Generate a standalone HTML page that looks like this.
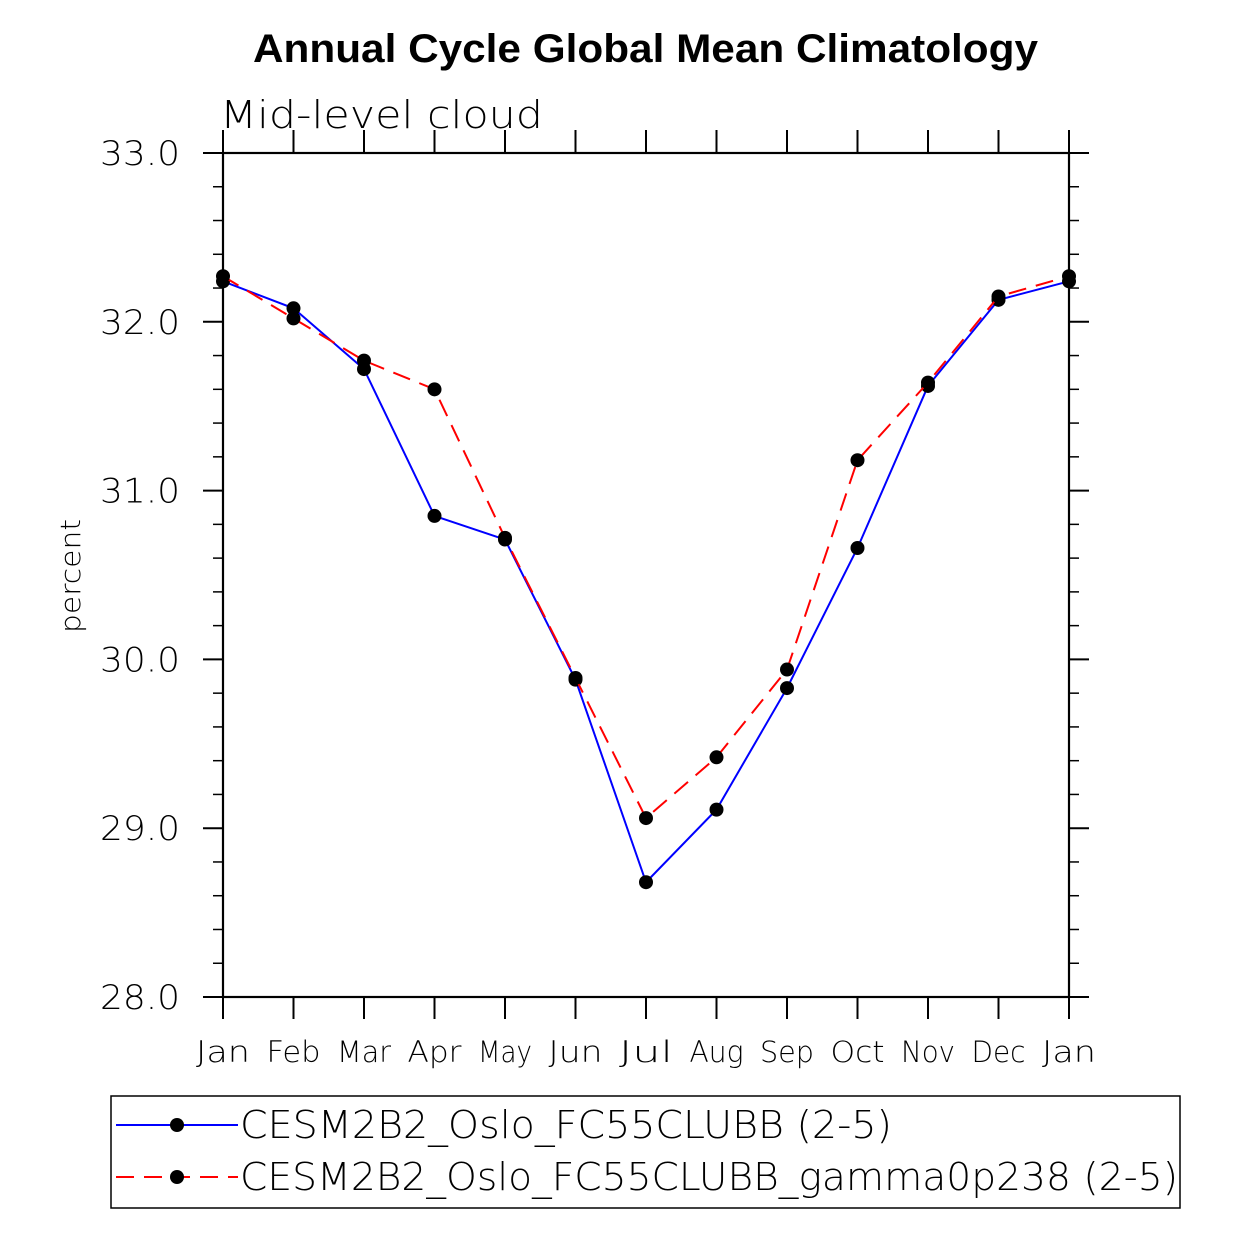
<!DOCTYPE html>
<html><head><meta charset="utf-8"><style>body{margin:0;background:#fff}svg{display:block}</style></head>
<body>
<svg id="chart" width="1238" height="1238" xmlns="http://www.w3.org/2000/svg" font-family="Liberation Sans, DejaVu Sans, sans-serif">
<text x="253" y="62" font-size="40" font-weight="bold" textLength="785" lengthAdjust="spacingAndGlyphs">Annual Cycle Global Mean Climatology</text>
<text x="220" y="128" font-size="38" font-family="DejaVu Sans, sans-serif" font-weight="200" textLength="323" lengthAdjust="spacingAndGlyphs">Mid-level cloud</text>
<text transform="translate(80,576) rotate(-90)" text-anchor="middle" font-size="28" font-family="DejaVu Sans, sans-serif" font-weight="200" textLength="114" lengthAdjust="spacingAndGlyphs">percent</text>
<g id="axes"></g>
<g id="series"></g>
<g>
<rect x="111" y="1096" width="1069" height="112" fill="none" stroke="#000" stroke-width="1.5"/>
<line x1="116" y1="1125" x2="238" y2="1125" stroke="#00f" stroke-width="2"/>
<circle cx="177" cy="1125" r="7" fill="#000"/>
<text x="240" y="1138" font-size="38" font-family="DejaVu Sans, sans-serif" font-weight="200" textLength="652" lengthAdjust="spacingAndGlyphs">CESM2B2_Oslo_FC55CLUBB (2-5)</text>
<line x1="116" y1="1177" x2="238" y2="1177" stroke="#f00" stroke-width="2" stroke-dasharray="18,10"/>
<circle cx="177" cy="1177" r="7" fill="#000"/>
<text x="240" y="1190" font-size="38" font-family="DejaVu Sans, sans-serif" font-weight="200" textLength="938" lengthAdjust="spacingAndGlyphs">CESM2B2_Oslo_FC55CLUBB_gamma0p238 (2-5)</text>
</g>
</svg>
<script>
const months=["Jan","Feb","Mar","Apr","May","Jun","Jul","Aug","Sep","Oct","Nov","Dec","Jan"];
const blueValues=[32.24,32.08,31.72,30.85,30.71,29.88,28.68,29.11,29.83,30.66,31.62,32.13,32.24];
const redValues=[32.27,32.02,31.77,31.60,30.72,29.89,29.06,29.42,29.94,31.18,31.64,32.15,32.27];
const yTicks=[28,29,30,31,32,33];
const yTickLabels=["28.0","29.0","30.0","31.0","32.0","33.0"];
const NS="http://www.w3.org/2000/svg";
const L=223,R=1069,T=153,B=997,ymin=28,ymax=33;
const xs=i=>L+(R-L)*i/(months.length-1);
const ys=v=>B-(v-ymin)/(ymax-ymin)*(B-T);
function mk(tag,attrs,parent){const e=document.createElementNS(NS,tag);for(const k in attrs)e.setAttribute(k,attrs[k]);parent.appendChild(e);return e;}
const ax=document.getElementById('axes');
const frame=mk('rect',{x:L,y:T,width:R-L,height:B-T,fill:'none',stroke:'#000','stroke-width':2.2},ax);


months.forEach((m,i)=>{const x=xs(i);
mk('line',{x1:x,y1:B,x2:x,y2:B+22,stroke:'#000','stroke-width':2},ax);
mk('line',{x1:x,y1:T,x2:x,y2:T-23,stroke:'#000','stroke-width':2},ax);
const t=mk('text',{x:x,y:1062,'text-anchor':'middle','font-size':29,'font-family':'DejaVu Sans, sans-serif','font-weight':200,textLength:m.length*18,lengthAdjust:'spacingAndGlyphs'},ax);
t.textContent=m;

});
for(let v=ymin;v<=ymax+1e-9;v+=0.2){const y=ys(v);const major=Math.abs(v-Math.round(v))<1e-6;const len=major?20:10;
mk('line',{x1:L-len,y1:y,x2:L,y2:y,stroke:'#000','stroke-width':major?2:1.5},ax);
mk('line',{x1:R,y1:y,x2:R+len,y2:y,stroke:'#000','stroke-width':major?2:1.5},ax);}
yTicks.forEach((v,i)=>{const t=mk('text',{x:180,y:ys(v)+12,'text-anchor':'end','font-size':34,'font-family':'DejaVu Sans, sans-serif','font-weight':200,textLength:80,lengthAdjust:'spacingAndGlyphs'},ax);
t.textContent=yTickLabels[i];

});
const sg=document.getElementById('series');
function draw(vals,color,dash,name){
const pts=vals.map((v,i)=>xs(i)+','+ys(v)).join(' ');
const pl=mk('polyline',{points:pts,fill:'none',stroke:color,'stroke-width':2,'stroke-dasharray':dash},sg);


vals.forEach((v,i)=>{const c=mk('circle',{cx:xs(i),cy:ys(v),r:7,fill:'#000'},sg);

});}
draw(blueValues,'#00f','none','fc55clubb');
draw(redValues,'#f00','18,10','gamma0p238');
</script>
</body></html>
